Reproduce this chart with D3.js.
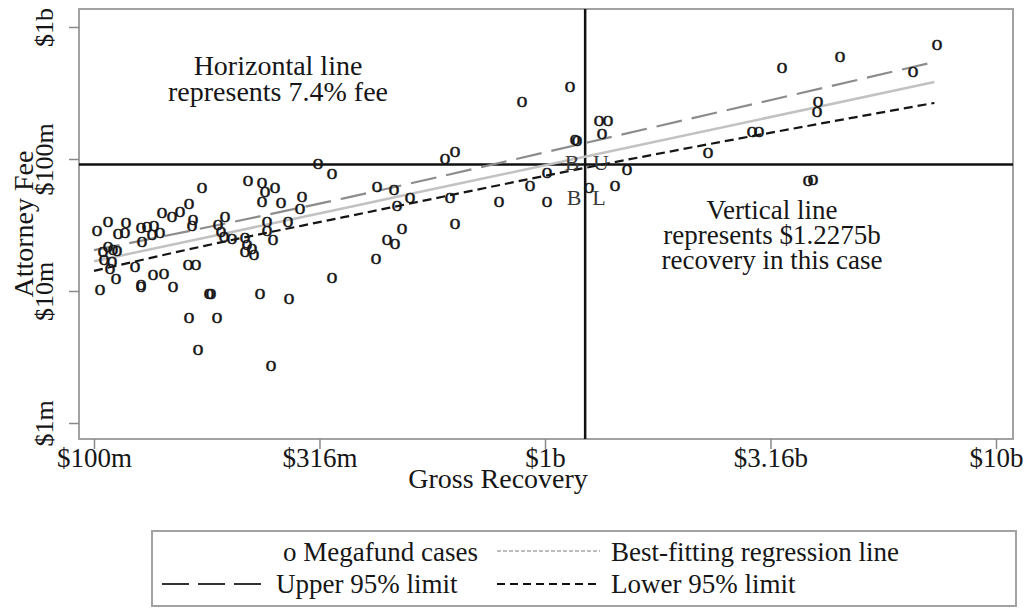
<!DOCTYPE html>
<html>
<head>
<meta charset="utf-8">
<style>
  body { margin: 0; background: #fff; }
  svg text { font-family: "Liberation Serif", "Times New Roman", serif; fill: #161616; }
</style>
</head>
<body>
<script src="https://cdn.jsdelivr.net/npm/d3@7/dist/d3.min.js"></script>
<script>
// all money values in $ millions
var recovery = [101.5, 107.4, 113.0, 117.8, 117.1, 127.1, 131.1, 135.9, 134.5, 140.1,
    127.8, 141.5, 148.9, 155.1, 162.4, 165.8, 164.9, 173.6, 104.7, 107.4,
    110.2, 112.5, 105.2, 109.6, 108.5, 123.3, 111.9, 103.1, 127.1, 127.1,
    135.2, 143.0, 149.7, 161.6, 168.3, 179.9, 181.7, 162.4, 187.4, 170.1,
    195.2, 188.3, 191.2, 194.2, 202.3, 216.2, 218.4, 224.0, 216.2, 226.4,
    241.9, 241.9, 249.4, 269.3, 219.6, 235.8, 239.4, 252.0, 235.8, 259.8,
    289.2, 286.3, 233.4, 270.6, 246.9, 337.2, 313.9, 337.2, 424.1, 462.5,
    469.6, 502.0, 600.2, 631.6, 615.7, 631.6, 481.8, 446.3, 464.9, 421.9,
    790.7, 926.2, 1010, 1010, 889.2, 1136, 1166, 1178, 1318, 1380,
    1338, 1520, 1430, 1252, 2298, 2877, 2982, 3354, 4510, 4031,
    4010, 3830, 3929, 6546, 7401]
var fee = [28.5, 33.3, 27.0, 32.7, 27.5, 30.0, 30.5, 31.1, 26.6, 27.5,
    23.5, 39.0, 36.4, 39.7, 45.6, 34.5, 31.1, 60.3, 19.7, 21.5,
    20.4, 20.1, 17.2, 16.6, 14.7, 15.2, 12.3, 10.2, 11.1, 10.7,
    13.2, 13.5, 10.7, 15.7, 15.7, 9.5, 9.5, 6.24, 6.24, 3.57,
    36.4, 31.6, 28.0, 25.6, 24.8, 25.2, 22.3, 20.8, 19.7, 18.7,
    33.3, 28.5, 24.3, 33.3, 68.1, 65.8, 56.2, 60.3, 47.2, 46.4,
    51.5, 41.8, 9.5, 8.7, 2.70, 12.5, 91.6, 77.0, 61.3, 58.2,
    44.0, 50.6, 100, 113.0, 50.6, 32.2, 29.5, 24.3, 22.7, 17.5,
    47.2, 62.4, 78.3, 47.2, 270.3, 351.2, 139.3, 136.9, 194.1, 194.1,
    154.7, 82.5, 62.4, 60.3, 111.0, 160.1, 160.1, 489.0, 592.6, 270.3,
    227.1, 68.1, 69.3, 456.1, 730.4]

// regression line and 95% limits
var fitRecovery = [100, 175, 360, 1225, 7300]
var fitBest = [16.8, 25.2, 42.6, 103.9, 383]
var fitUpper = [20.4, 30.0, 50.6, 132, 543]
var fitLower = [14.2, 21.9, 36.4, 85.5, 266]

var caseRecovery = 1227.5
var feeShare = 0.074

var markLabels = ["B", "U", "B", "L"]
var markRecovery = [1148, 1330, 1160, 1318]
var markFee = [95, 94, 51.5, 51]

var xTickValues = [100, 316.2, 1000, 3162, 10000]
var xTickLabels = ["$100m", "$316m", "$1b", "$3.16b", "$10b"]
var yTickValues = [1000, 100, 10, 1]
var yTickLabels = ["$1b", "$100m", "$10m", "$1m"]

var width = 1033, height = 613
var frame = {left: 79, right: 1013, top: 9, bottom: 439}

var svg = d3.select("body").append("svg")
    .attr("width", width)
    .attr("height", height)

var x = d3.scaleLog().domain([100, 10000]).range([94, 996])
var y = d3.scaleLog().domain([1, 1000]).range([423, 27])

// frame
svg.append("rect")
    .attr("x", frame.left)
    .attr("y", frame.top)
    .attr("width", frame.right - frame.left)
    .attr("height", frame.bottom - frame.top)
    .attr("fill", "none")
    .attr("stroke", "#a2a2a2")
    .attr("stroke-width", 2)

// axes
var xAxis = svg.append("g")
    .attr("transform", `translate(0,${frame.bottom})`)
    .call(d3.axisBottom(x).tickValues(xTickValues).tickFormat((d, i) => xTickLabels[i]).tickSize(10).tickPadding(-1))
xAxis.select(".domain").remove()
xAxis.selectAll("line").attr("stroke", "#8a8a8a").attr("stroke-width", 1.5)
xAxis.attr("font-family", null).attr("font-size", 27)
xAxis.selectAll("text").attr("fill", "#161616")

var yAxis = svg.append("g")
    .attr("transform", `translate(${frame.left},0)`)
    .call(d3.axisLeft(y).tickValues(yTickValues).tickFormat((d, i) => yTickLabels[i]).tickSize(10))
yAxis.select(".domain").remove()
yAxis.selectAll("line").attr("stroke", "#8a8a8a").attr("stroke-width", 1.5)
yAxis.attr("font-family", null).attr("font-size", 26)
yAxis.selectAll("text")
    .attr("fill", "#161616")
    .attr("transform", "rotate(-90)")
    .attr("x", 0)
    .attr("y", -26)
    .attr("dy", 0)
    .attr("text-anchor", "middle")

svg.append("text")
    .attr("x", 498)
    .attr("y", 488)
    .attr("text-anchor", "middle")
    .attr("font-size", 28)
    .text("Gross Recovery")

svg.append("text")
    .attr("transform", `translate(33,${(frame.top + frame.bottom) / 2}) rotate(-90)`)
    .attr("text-anchor", "middle")
    .attr("font-size", 28)
    .text("Attorney Fee")

// reference lines
svg.append("line")
    .attr("x1", frame.left).attr("x2", frame.right)
    .attr("y1", y(caseRecovery * feeShare)).attr("y2", y(caseRecovery * feeShare))
    .attr("stroke", "#111").attr("stroke-width", 2.5)

svg.append("line")
    .attr("x1", x(caseRecovery)).attr("x2", x(caseRecovery))
    .attr("y1", frame.top).attr("y2", frame.bottom)
    .attr("stroke", "#111").attr("stroke-width", 2.5)

// regression lines
var fitLine = vals => d3.line()
    .x((d, i) => x(fitRecovery[i]))
    .y((d, i) => y(vals[i]))
    .curve(d3.curveMonotoneX)(vals)

svg.append("path").attr("d", fitLine(fitBest))
    .attr("fill", "none").attr("stroke", "#c2c2c2").attr("stroke-width", 2.5)
svg.append("path").attr("d", fitLine(fitUpper))
    .attr("fill", "none").attr("stroke", "#8c8c8c").attr("stroke-width", 2.2)
    .attr("stroke-dasharray", "26,10")
svg.append("path").attr("d", fitLine(fitLower))
    .attr("fill", "none").attr("stroke", "#151515").attr("stroke-width", 2.2)
    .attr("stroke-dasharray", "9,5")

// case markers
svg.selectAll("text.case")
    .data(recovery)
    .enter().append("text")
    .attr("class", "case")
    .attr("x", d => x(d))
    .attr("y", (d, i) => y(fee[i]))
    .attr("dy", "0.23em")
    .attr("text-anchor", "middle")
    .attr("font-size", 22)
    .style("stroke", "#161616")
    .style("stroke-width", 0.4)
    .text("o")

svg.selectAll("text.mark")
    .data(markLabels)
    .enter().append("text")
    .attr("class", "mark")
    .attr("x", (d, i) => x(markRecovery[i]))
    .attr("y", (d, i) => y(markFee[i]))
    .attr("dy", "0.35em")
    .attr("text-anchor", "middle")
    .attr("font-size", 22)
    .style("fill", "#3a3a3a")
    .text(d => d)

// notes
var noteH = svg.append("text").attr("text-anchor", "middle").attr("font-size", 28)
noteH.append("tspan").attr("x", 278).attr("y", 75).text("Horizontal line")
noteH.append("tspan").attr("x", 278).attr("y", 101).text("represents 7.4% fee")

var noteV = svg.append("text").attr("text-anchor", "middle").attr("font-size", 27)
noteV.append("tspan").attr("x", 772).attr("y", 219).text("Vertical line")
noteV.append("tspan").attr("x", 772).attr("y", 244).text("represents $1.2275b")
noteV.append("tspan").attr("x", 772).attr("y", 269).text("recovery in this case")

// legend
var legend = svg.append("g")
legend.append("rect")
    .attr("x", 152).attr("y", 531)
    .attr("width", 864).attr("height", 75)
    .attr("fill", "none").attr("stroke", "#a2a2a2").attr("stroke-width", 2)

var legendItems = [
    {label: "o Megafund cases", tx: 283, ty: 561},
    {label: "Best-fitting regression line", tx: 611, ty: 561, x1: 497, x2: 600, ly: 551, stroke: "#a8a8a8", w: 1.5, dash: "4,2"},
    {label: "Upper 95% limit", tx: 276, ty: 593, x1: 162, x2: 263, ly: 584, stroke: "#333", w: 2, dash: "27,9"},
    {label: "Lower 95% limit", tx: 611, ty: 593, x1: 497, x2: 600, ly: 584, stroke: "#111", w: 2, dash: "8,5"}
]
legendItems.forEach(function (d) {
    if (d.x1 !== undefined) {
        legend.append("line")
            .attr("x1", d.x1).attr("x2", d.x2)
            .attr("y1", d.ly).attr("y2", d.ly)
            .attr("stroke", d.stroke).attr("stroke-width", d.w)
            .attr("stroke-dasharray", d.dash)
    }
    legend.append("text")
        .attr("x", d.tx).attr("y", d.ty)
        .attr("font-size", 27)
        .text(d.label)
})
</script>
</body>
</html>
